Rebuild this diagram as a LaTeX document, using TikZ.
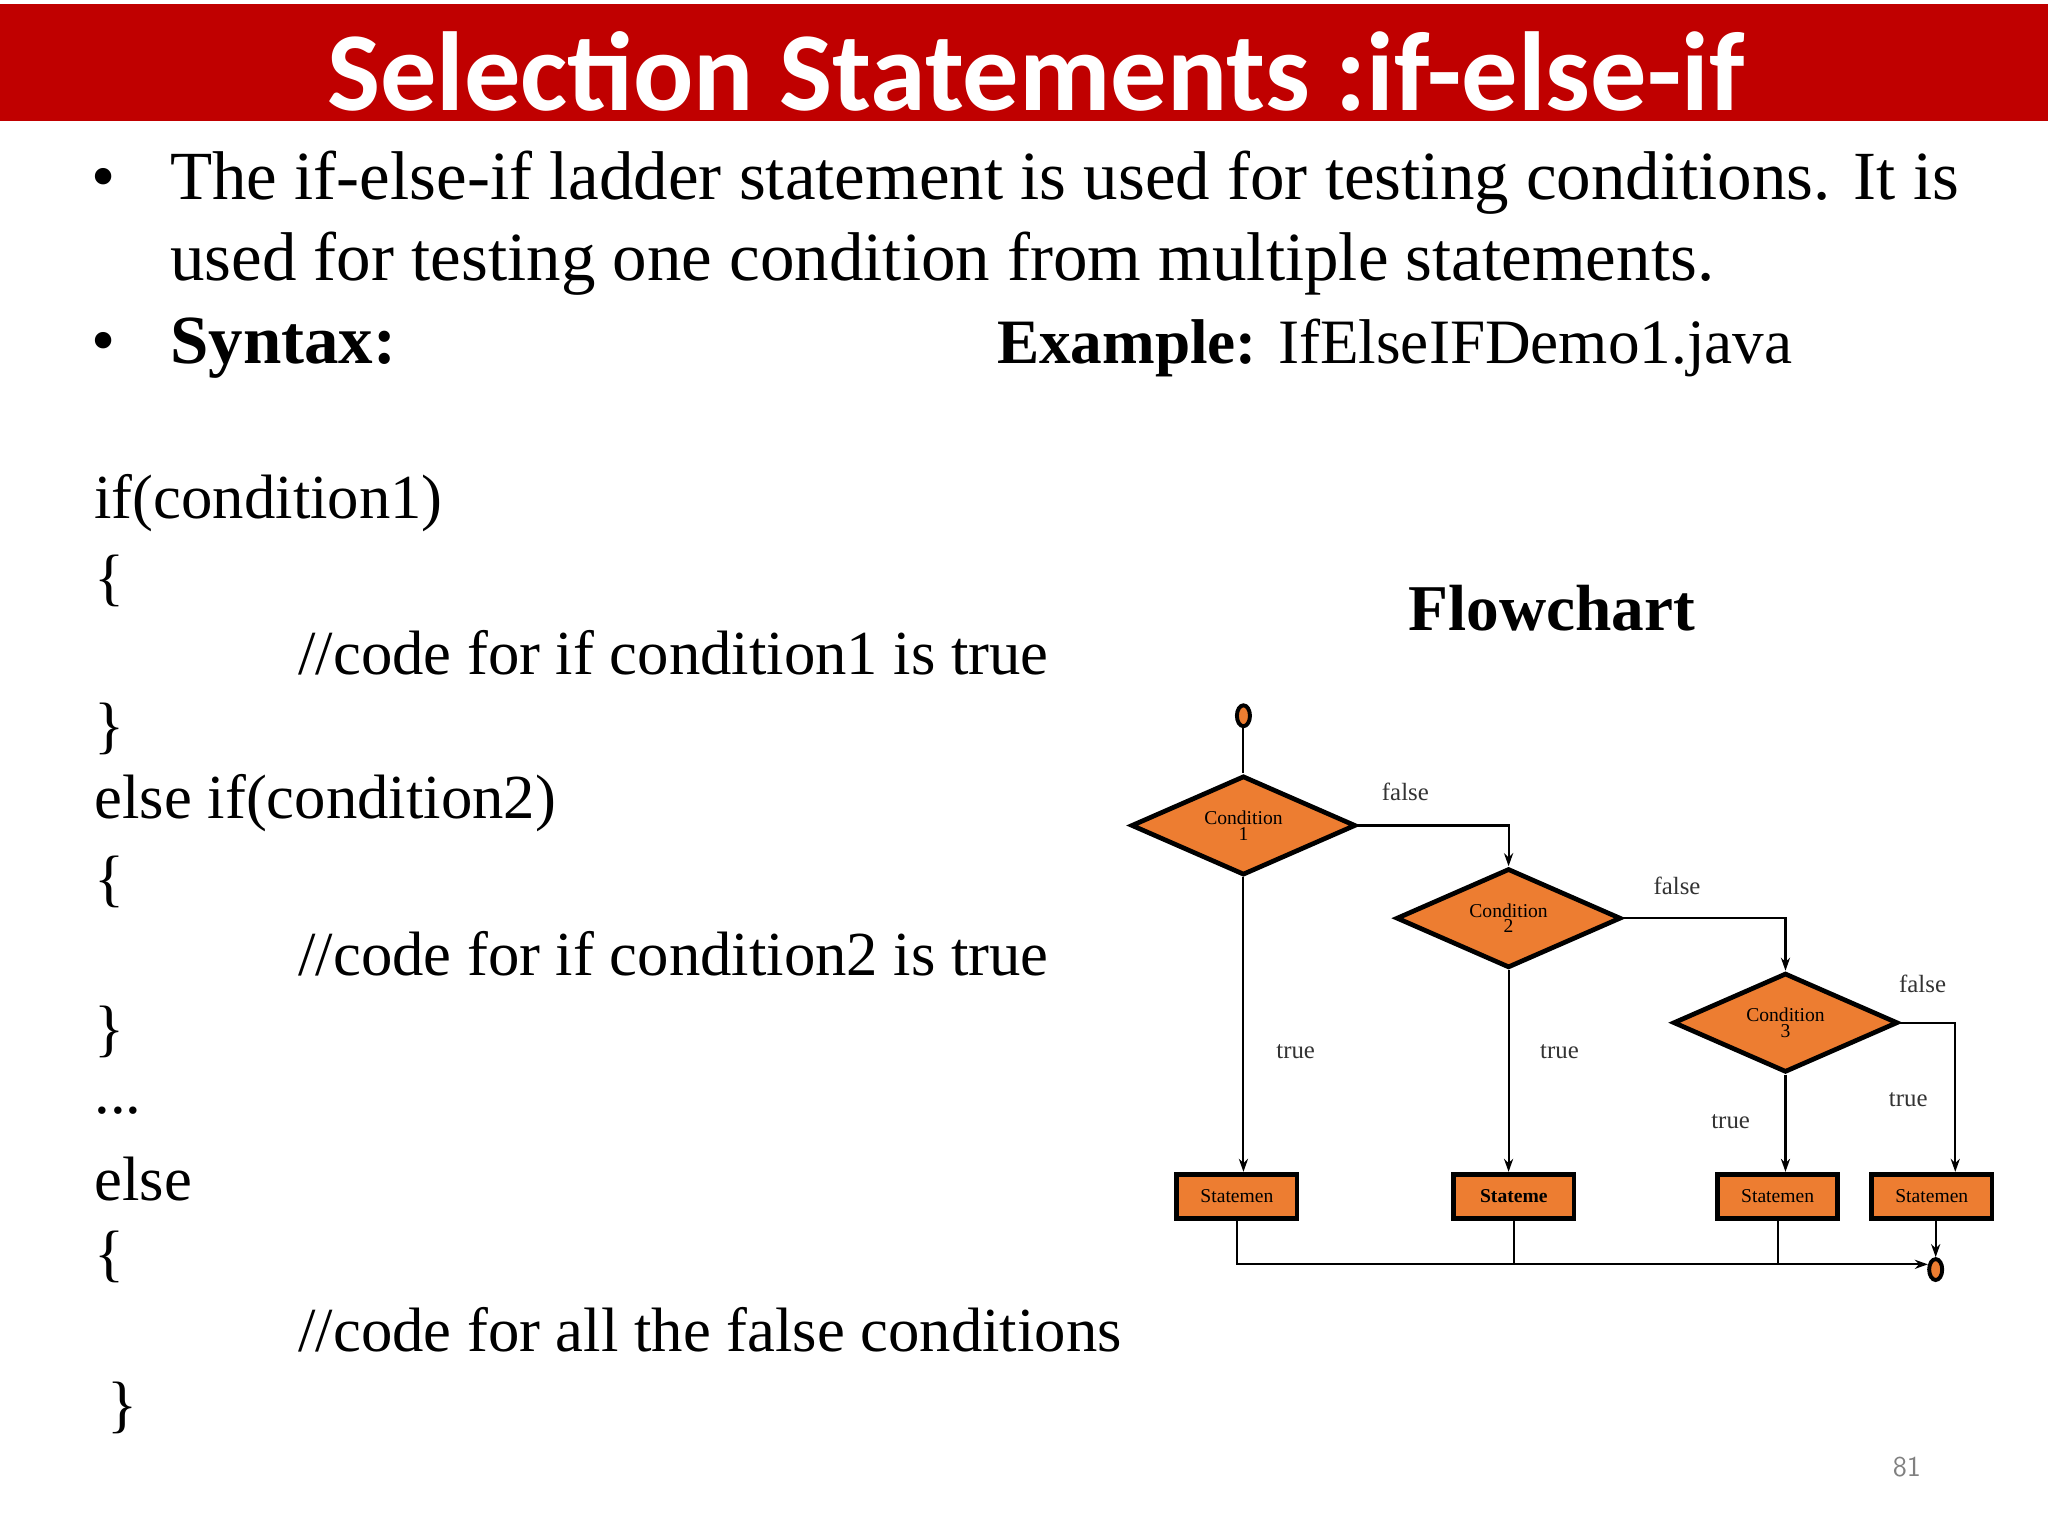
\documentclass[tikz,border=0pt]{standalone}
\usepackage{fontspec}
\setmainfont{Liberation Serif}
\newfontfamily\calib{Carlito}
\usetikzlibrary{shapes.geometric,arrows.meta}
\definecolor{barred}{RGB}{192,0,0}
\definecolor{orng}{RGB}{237,125,49}
\tikzset{
 txt/.style={anchor=base west,inner sep=0pt,font=\fontsize{26.4}{30}\selectfont},
 code/.style={anchor=west,inner sep=0pt,font=\fontsize{24}{28}\selectfont},
 dia/.style={diamond,draw,line width=1.8pt,fill=orng,minimum width=86pt,minimum height=38pt,inner sep=0pt,aspect=2.3,align=center,font=\fontsize{7.5}{6}\selectfont},
 stbox/.style={rectangle,draw,line width=1.8pt,fill=orng,minimum width=46pt,minimum height=17pt,inner sep=0pt,font=\fontsize{7.5}{8}\selectfont},
 term/.style={ellipse,draw,line width=1.5pt,fill=orng,minimum width=5pt,minimum height=8pt,inner sep=0pt},
 lbl/.style={font=\fontsize{9.5}{10}\selectfont,text=black!80},
 arr/.style={-{Stealth[length=5pt,width=3.5pt]},line width=0.8pt},
 ln/.style={line width=0.8pt}
}
\begin{document}
\begin{tikzpicture}[x=0.5pt,y=-0.5pt]
\useasboundingbox (0,0) rectangle (1568,1176);
\fill[white] (0,0) rectangle (1568,1176);
\fill[barred] (0,3) rectangle (1568,93);
\node[text=white,font=\calib\bfseries\fontsize{43}{46}\selectfont] (title) at (793,55) {Selection Statements :if-else-if};
\node[txt] (b1) at (70,153) {\textbullet};
\node[txt] (l1) at (130,153) {The if-else-if ladder statement is used for testing conditions. It is};
\node[txt] (l2) at (130,215) {used for testing one condition from multiple statements.};
\node[txt] (b2) at (70,278) {\textbullet};
\node[txt] (l3) at (130,278) {\textbf{Syntax:}};
\node[txt,font=\fontsize{24.2}{30}\selectfont] (l4) at (763,278) {\textbf{Example:} IfElseIFDemo1.java};
\node[code] (c1) at (72,385) {if(condition1)};
\node[code] (c2) at (72,445) {\{};
\node[code] (c3) at (228,500) {//code for if condition1 is true};
\node[code] (c4) at (72,558) {\}};
\node[code] (c5) at (72,615) {else if(condition2)};
\node[code] (c6) at (72,675) {\{};
\node[code] (c7) at (228,730) {//code for if condition2 is true};
\node[code] (c8) at (72,790) {\}};
\node[code] (c9) at (72,850) {...};
\node[code] (c10) at (72,903) {else};
\node[code] (c11) at (72,962) {\{};
\node[code] (c12) at (228,1018) {//code for all the false conditions};
\node[code] (c13) at (82,1078) {\}};
\node[font=\bfseries\fontsize{25}{28}\selectfont] (fc) at (1188,466) {Flowchart};
\node[font=\sffamily\fontsize{11}{12}\selectfont,text=black!50] (pg) at (1460,1123) {81};
% flowchart
\node[term] (s) at (952,548) {};
\node[dia] (d1) at (952,632) {Condition\\1};
\node[dia] (d2) at (1155,703) {Condition\\2};
\node[dia] (d3) at (1367,783) {Condition\\3};
\node[stbox] (s1) at (947,916) {Statemen};
\node[stbox] (s2) at (1159,916) {\textbf{Stateme}};
\node[stbox] (s3) at (1361,916) {Statemen};
\node[stbox] (s4) at (1479,916) {Statemen};
\node[term] (e) at (1482,972) {};
\coordinate (j) at (1476,968);
\draw[ln] (s) -- (d1.north);
\draw[arr] (d1.east) -| (d2.north);
\draw[arr] (d2.east) -| (d3.north);
\draw[arr] (d3.east) -| (s4.north -| 1497,0);
\draw[arr] (d1.south) -- (d1.south |- s1.north);
\draw[arr] (d2.south) -- (d2.south |- s2.north);
\draw[arr] (d3.south) -- (d3.south |- s3.north);
\draw[arr] (s1.south) -- (s1.south |- j) -- (j);
\draw[ln] (s2.south) -- (s2.south |- j);
\draw[ln] (s3.south) -- (s3.south |- j);
\draw[arr] (s4.south -| e) -- (e.north);
\node[lbl] (f1) at (1076,606) {false};
\node[lbl] (f2) at (1284,678) {false};
\node[lbl] (f3) at (1472,753) {false};
\node[lbl] (t1) at (992,805) {true};
\node[lbl] (t2) at (1194,805) {true};
\node[lbl] (t3) at (1325,859) {true};
\node[lbl] (t4) at (1461,842) {true};
\end{tikzpicture}
\end{document}
